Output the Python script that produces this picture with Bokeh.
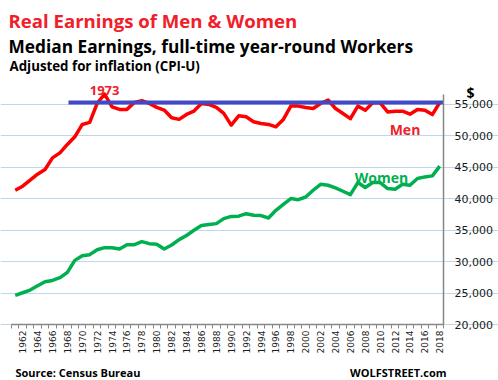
import math
from bokeh.plotting import figure
from bokeh.models import Range1d, FixedTicker, NumeralTickFormatter, Label
from bokeh.embed import file_html
from bokeh.resources import INLINE

# ---- data ----
years = list(range(1961, 2019))
men = [41320, 41960, 42910, 43870, 44610, 46460, 47250, 48590, 49800, 51770,
       52090, 55110, 56600, 54570, 54160, 54160, 55270, 55530, 55110, 54480,
       54050, 52820, 52570, 53360, 53890, 55110, 54950, 54480, 53520, 51660,
       53140, 52980, 52190, 51930, 51770, 51390, 52570, 54680, 54680, 54460,
       54300, 55100, 55650, 54300, 53500, 52690, 54680, 54030, 55210, 55210,
       53760, 53870, 53870, 53390, 54140, 54030, 53340, 55250]
women = [24610, 25040, 25460, 26160, 26790, 27000, 27430, 28270, 30180, 30930,
         31090, 31880, 32200, 32200, 31980, 32680, 32680, 33160, 32840, 32730,
         31980, 32620, 33480, 34140, 34960, 35720, 35880, 36020, 36820, 37160,
         37200, 37600, 37340, 37290, 36910, 38140, 39090, 40000, 39820, 40250,
         41320, 42270, 42110, 41690, 41160, 40630, 42540, 41750, 42540, 42540,
         41590, 41480, 42270, 42110, 43180, 43440, 43600, 45140]
y_ticks = [20000, 25000, 30000, 35000, 40000, 45000, 50000, 55000]
x_label_years = list(range(1962, 2019, 2))
peak_year = 1973
blue_start_year = 1968.15

# chart-area extent (data) and where it sits on the page (pixels)
X0, X1 = 1960.5, 2018.5
Y0, Y1 = 20000, 56600
PX0, PX1 = 11, 443          # page x of X0, X1
PY_Y0, PY_55 = 324, 103.6   # page y of 20,000 and 55,000
def dx(px):
    return X0 + (px - PX0) * (X1 - X0) / (PX1 - PX0)
def dy(py):
    return 20000 + (PY_Y0 - py) * 35000 / (PY_Y0 - PY_55)

W, H = 498, 380
p = figure(width=W, height=H,
           x_range=Range1d(dx(0), dx(W)), y_range=Range1d(dy(H), dy(0)),
           y_axis_location="right", output_backend="svg", toolbar_location=None,
           min_border_left=0, min_border_right=0, min_border_top=0, min_border_bottom=0)
p.outline_line_color = None
p.background_fill_color = "white"
p.border_fill_color = "white"

# grid
p.xgrid.visible = False
p.ygrid.ticker = FixedTicker(ticks=y_ticks)
p.ygrid.bounds = (X0, X1)
p.ygrid.grid_line_color = "#BDD7EE"
p.ygrid.grid_line_width = 1

# y axis (right edge of chart area)
ya = p.yaxis[0]
ya.fixed_location = X1
ya.bounds = (Y0, Y1)
ya.ticker = FixedTicker(ticks=y_ticks)
ya.formatter = NumeralTickFormatter(format="0,0")
ya.axis_line_color = "#868686"
ya.axis_line_width = 1.5
ya.major_tick_line_color = None
ya.minor_tick_line_color = None
ya.major_tick_out = 0
ya.major_label_standoff = 11
ya.major_label_text_font = "DejaVu Sans"
ya.major_label_text_font_size = "11px"
ya.major_label_text_color = "#1a1a1a"

# x axis (bottom of chart area)
xa = p.xaxis[0]
xa.fixed_location = Y0
xa.bounds = (X0, X1)
xa.ticker = FixedTicker(ticks=x_label_years,
                        minor_ticks=[y - 0.5 for y in years] + [years[-1] + 0.5])
xa.axis_line_color = "#868686"
xa.axis_line_width = 1.5
xa.major_tick_line_color = None
xa.major_tick_out = 4
xa.major_tick_in = 0
xa.minor_tick_line_color = "#868686"
xa.minor_tick_out = 4
xa.minor_tick_in = 0
xa.major_label_orientation = math.pi / 2
xa.major_label_standoff = 2
xa.major_label_text_font = "DejaVu Sans"
xa.major_label_text_font_size = "9px"
xa.major_label_text_color = "#1a1a1a"

# series
p.line(years, women, line_color="#00B050", line_width=3.5, line_join="round")
p.line(years, men, line_color="#FF0000", line_width=3.5, line_join="round")
p.segment(x0=[blue_start_year], y0=[men[-1]], x1=[X1], y1=[men[-1]],
          line_color="#4349C4", line_width=4)

RED = "#F0202A"
def lab(text, x, y, size, color="black", align="left", baseline="alphabetic", font="Open Sans"):
    p.add_layout(Label(x=x, y=y, text=text, text_font=font, text_font_size=size,
                       text_font_style="bold", text_color=color, text_align=align,
                       text_baseline=baseline))

# titles
lab("Real Earnings of Men & Women", dx(8), dy(19.5), "18.6px", RED)
lab("Median Earnings, full-time year-round Workers", dx(8), dy(45.7), "17.3px")
lab("Adjusted for inflation (CPI-U)", dx(9), dy(65.7), "13.3px")
# annotations
p.add_layout(Label(x=peak_year, y=max(men), text=str(peak_year), text_font="Open Sans",
                   text_font_size="13px", text_font_style="bold", text_color=RED,
                   text_align="center", text_baseline="alphabetic", y_offset=4))
lab("$", dx(470), dy(92), "14px", align="center")
lab("Men", dx(404.5), dy(129.3), "14px", RED, align="center")
lab("Women", dx(381), dy(177.3), "14px", "#00B050", align="center")
# footer
lab("Source: Census Bureau", dx(15), dy(371.7), "11px")
lab("WOLFSTREET.com", dx(446), dy(371.7), "11px", align="right")

open("out.html", "w").write(file_html(p, INLINE))
